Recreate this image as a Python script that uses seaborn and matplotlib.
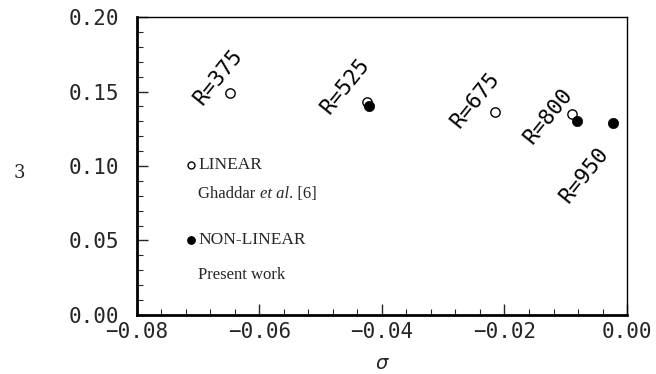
import matplotlib
matplotlib.use("Agg")
import matplotlib.pyplot as plt
from matplotlib.ticker import MultipleLocator, FuncFormatter
import seaborn as sns
import pandas as pd

# Data
linear_sigma = [-0.0648, -0.0425, -0.0216, -0.0089]
linear_omega = [0.149, 0.143, 0.136, 0.135]
nonlinear_sigma = [-0.0421, -0.0082, -0.0023]
nonlinear_omega = [0.140, 0.130, 0.129]
r_labels = ["R=375", "R=525", "R=675", "R=800", "R=950"]
r_label_x = [-0.0668, -0.0460, -0.0247, -0.0129, -0.0070]
r_label_y = [0.160, 0.154, 0.144, 0.1336, 0.094]

sns.set_theme(style="white")
plt.rcParams['font.family'] = ['DejaVu Sans']

fig = plt.figure(figsize=(6.56, 3.74), dpi=100)
ax = fig.add_axes([0.2088, 0.1578, 0.7470, 0.7967])

lin = pd.DataFrame({"sigma": linear_sigma, "omega": linear_omega})
non = pd.DataFrame({"sigma": nonlinear_sigma, "omega": nonlinear_omega})
sns.scatterplot(data=lin, x="sigma", y="omega", ax=ax, marker="o", s=45,
                facecolor="white", edgecolor="black", linewidth=1.0, zorder=3)
sns.scatterplot(data=non, x="sigma", y="omega", ax=ax, marker="o", s=55,
                color="black", edgecolor="black", linewidth=0.5, zorder=4)

for lab, lx, ly in zip(r_labels, r_label_x, r_label_y):
    ax.text(lx, ly, lab, rotation=51, rotation_mode="anchor", ha="center", va="center",
            fontsize=15.5, family="DejaVu Sans Mono", color="black")

serif = "Liberation Serif"
# legend-like annotations
ax.scatter([-0.0712], [0.101], s=25, facecolor="white", edgecolor="black", linewidth=1.0)
ax.text(-0.0700, 0.101, "LINEAR", fontsize=12.5, family=serif, va="center", ha="left")
t1 = ax.text(-0.0700, 0.0785, "Ghaddar ", fontsize=12, family=serif, va="baseline", ha="left")
t2 = ax.annotate("et al", xy=(1, 0), xycoords=t1, va="bottom", ha="left",
                 fontsize=12, family=serif, style="italic")
ax.annotate(". [6]", xy=(1, 0), xycoords=t2, va="bottom", ha="left",
            fontsize=12, family=serif)
ax.scatter([-0.0712], [0.050], s=28, color="black")
ax.text(-0.0700, 0.050, "NON-LINEAR", fontsize=12.5, family=serif, va="center", ha="left")
ax.text(-0.0700, 0.024, "Present work", fontsize=12, family=serif, va="baseline", ha="left")

ax.set_xlim(-0.08, 0.0)
ax.set_ylim(0.0, 0.20)
ax.xaxis.set_major_locator(MultipleLocator(0.02))
ax.xaxis.set_minor_locator(MultipleLocator(0.004))
ax.yaxis.set_major_locator(MultipleLocator(0.05))
ax.yaxis.set_minor_locator(MultipleLocator(0.01))
fmt = FuncFormatter(lambda v, p: f"{v:.2f}".replace("-", "\u2212"))
ax.xaxis.set_major_formatter(fmt)
ax.yaxis.set_major_formatter(fmt)
ax.tick_params(which="major", direction="in", length=8, width=1.0, bottom=True, left=True,
               top=False, right=False, labelsize=15)
ax.tick_params(axis="x", which="major", pad=5)
ax.tick_params(axis="y", which="major", pad=13)
ax.tick_params(which="minor", direction="in", length=4, width=0.8, bottom=True, left=True,
               top=False, right=False)
for lab in ax.get_xticklabels() + ax.get_yticklabels():
    lab.set_family("DejaVu Sans Mono")

for side in ["left", "bottom"]:
    ax.spines[side].set_linewidth(2.0)
    ax.spines[side].set_color("black")
for side in ["top", "right"]:
    ax.spines[side].set_linewidth(1.0)
    ax.spines[side].set_color("black")

ax.set_xlabel(r"$\sigma$", fontsize=14)
ax.xaxis.set_label_coords(0.5, -0.13)
ax.set_ylabel("3", fontsize=13, rotation=0, family="DejaVu Serif")
ax.yaxis.set_label_coords(-0.24, 0.445)

fig.savefig("out.png", dpi=100)
